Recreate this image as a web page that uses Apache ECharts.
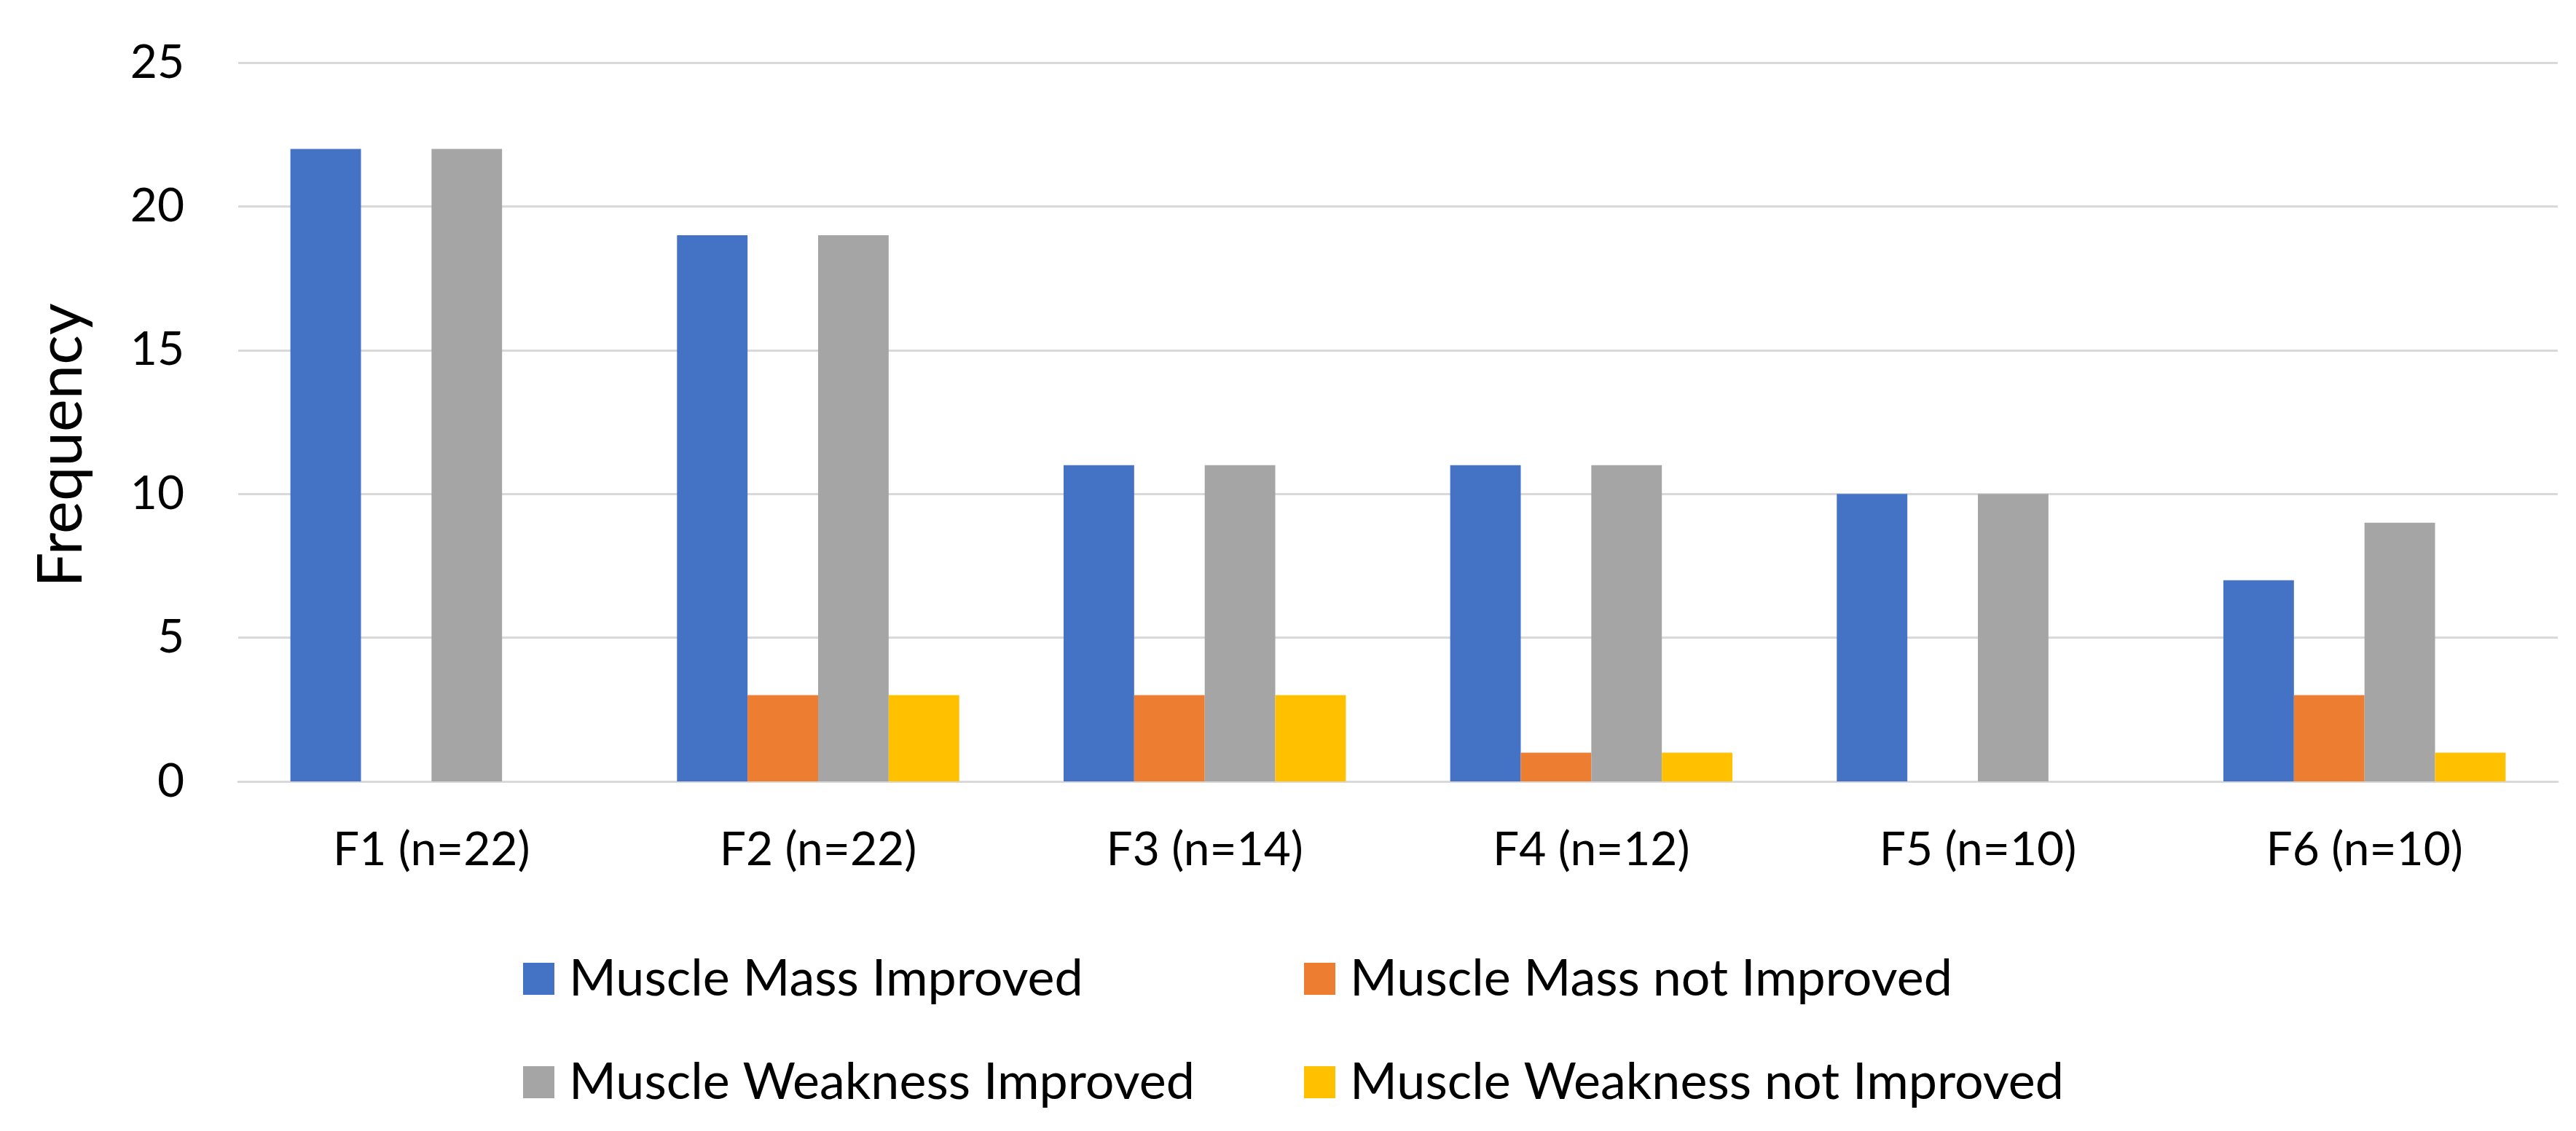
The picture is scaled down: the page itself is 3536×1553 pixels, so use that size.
<!DOCTYPE html>
<html>
<head>
<meta charset="utf-8">
<script src="https://cdn.jsdelivr.net/npm/echarts@6/dist/echarts.min.js"></script>
<style>
html,body{margin:0;padding:0;background:#fff;}
#chart{width:3536px;height:1553px;}
</style>
</head>
<body>
<div id="chart"></div>
<script>
const categories = ['F1 (n=22)', 'F2 (n=22)', 'F3 (n=14)', 'F4 (n=12)', 'F5 (n=10)', 'F6 (n=10)'];
const seriesNames = ['Muscle Mass Improved', 'Muscle Mass not Improved', 'Muscle Weakness Improved', 'Muscle Weakness not Improved'];
const massImproved = [22, 19, 11, 11, 10, 7];
const massNotImproved = [0, 3, 3, 1, 0, 3];
const weaknessImproved = [22, 19, 11, 11, 10, 9];
const weaknessNotImproved = [0, 3, 3, 1, 0, 1];
const yTicks = { min: 0, max: 25, interval: 5 };
const colors = ['#4472C4', '#ED7D31', '#A5A5A5', '#FFC000'];

const FONT = 'Lato';
const chart = echarts.init(document.getElementById('chart'));
const values = [massImproved, massNotImproved, weaknessImproved, weaknessNotImproved];

const legendCommon = {
  orient: 'vertical',
  top: 1297,
  itemWidth: 43,
  itemHeight: 44,
  itemGap: 58,
  icon: 'rect',
  textStyle: { fontFamily: FONT, fontSize: 70, lineHeight: 84, color: '#000', padding: [0, 0, 0, 15] }
};

chart.setOption({
  animation: false,
  color: colors,
  grid: { left: 327, right: 25, top: 86, bottom: 480, containLabel: false },
  legend: [
    Object.assign({ left: 713, data: [seriesNames[0], seriesNames[2]] }, legendCommon),
    Object.assign({ left: 1785, data: [seriesNames[1], seriesNames[3]] }, legendCommon)
  ],
  xAxis: {
    type: 'category',
    data: categories,
    axisLine: { show: true, lineStyle: { color: '#d9d9d9', width: 3 } },
    axisTick: { show: false },
    axisLabel: { fontFamily: FONT, fontSize: 64, color: '#000', margin: 62 }
  },
  yAxis: {
    type: 'value',
    min: yTicks.min,
    max: yTicks.max,
    interval: yTicks.interval,
    name: 'Frequency',
    nameLocation: 'middle',
    nameRotate: 90,
    nameGap: 200,
    nameTextStyle: { fontFamily: FONT, fontSize: 85, color: '#000', padding: [0, 64, 0, 0] },
    axisLine: { show: false },
    axisTick: { show: false },
    splitLine: { lineStyle: { color: '#d9d9d9', width: 3 } },
    axisLabel: { fontFamily: FONT, fontSize: 64, color: '#000', margin: 74 }
  },
  series: seriesNames.map((name, i) => ({
    name: name,
    type: 'bar',
    data: values[i],
    barGap: '0%',
    barCategoryGap: '27%',
    itemStyle: { color: colors[i] }
  }))
});
</script>
</body>
</html>
